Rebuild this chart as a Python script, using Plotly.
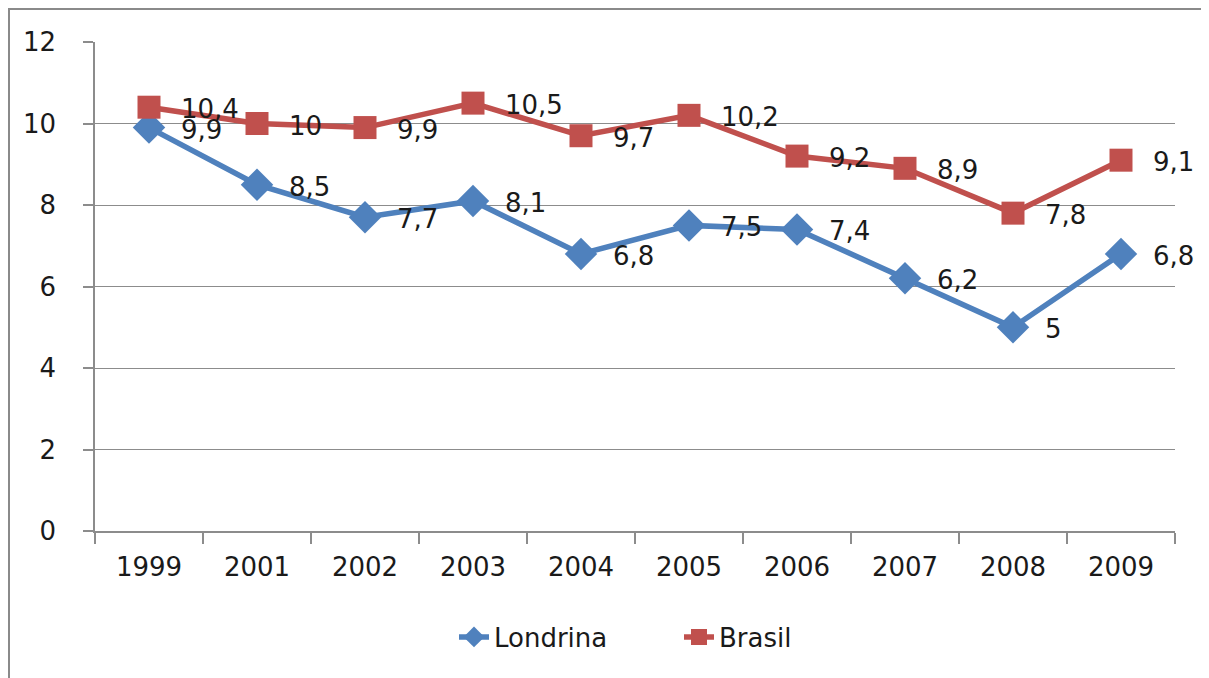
import plotly.graph_objects as go

years = ["1999", "2001", "2002", "2003", "2004", "2005", "2006", "2007", "2008", "2009"]
londrina = [9.9, 8.5, 7.7, 8.1, 6.8, 7.5, 7.4, 6.2, 5.0, 6.8]
brasil = [10.4, 10.0, 9.9, 10.5, 9.7, 10.2, 9.2, 8.9, 7.8, 9.1]
y_ticks = [0, 2, 4, 6, 8, 10, 12]

BLUE = "#4F81BD"
RED = "#C0504D"
FONT = "DejaVu Sans"
FS = 26

def fmt(v):
    return ("%g" % v).replace(".", ",")

fig = go.Figure()
fig.add_trace(go.Scatter(
    x=years, y=londrina, name="Londrina", mode="lines+markers",
    line=dict(color=BLUE, width=5.5),
    marker=dict(symbol="diamond", size=25, color=BLUE),
))
fig.add_trace(go.Scatter(
    x=years, y=brasil, name="Brasil", mode="lines+markers",
    line=dict(color=RED, width=5.5),
    marker=dict(symbol="square", size=23, color=RED),
))

annotations = []
for series in (londrina, brasil):
    for i, v in enumerate(series):
        annotations.append(dict(
            x=i, y=v, xref="x", yref="y", text=fmt(v), showarrow=False,
            xanchor="left", yanchor="middle", xshift=30, yshift=-2,
            font=dict(family=FONT, size=FS, color="#1a1a1a"),
        ))

# page has an 8px body margin; figure origin sits at page (8, 8)
OFF = 8
W, H = 1209 - OFF, 678 - OFF
L = 95 - OFF
T = 42 - OFF
R = W - (1175 - OFF)
B = H - (531 - OFF)
pw, ph = W - L - R, H - T - B

def px_x(px):
    return (px - OFF - L) / pw

def px_y(py):
    return (H - B - (py - OFF)) / ph

shapes = [
    dict(type="line", xref="paper", yref="paper", x0=px_x(8.5), x1=px_x(8.5), y0=px_y(6), y1=px_y(680),
         line=dict(color="#8a8a8a", width=3)),
    dict(type="line", xref="paper", yref="paper", x0=px_x(7), x1=px_x(1207), y0=px_y(8.5), y1=px_y(8.5),
         line=dict(color="#8a8a8a", width=3)),
    dict(type="line", xref="paper", yref="paper", x0=px_x(1206), x1=px_x(1206), y0=px_y(8), y1=px_y(680),
         line=dict(color="#d0d0d0", width=1.5)),
]

fig.update_layout(
    width=W, height=H,
    margin=dict(l=L, r=R, t=T, b=B, pad=0),
    paper_bgcolor="white", plot_bgcolor="white",
    font=dict(family=FONT, size=FS, color="#1a1a1a"),
    showlegend=True,
    legend=dict(orientation="h", x=px_x(454), xanchor="left", y=px_y(637), yanchor="middle",
                font=dict(family=FONT, size=FS), bgcolor="rgba(0,0,0,0)",
                entrywidth=180, entrywidthmode="pixels"),
    annotations=annotations,
    shapes=shapes,
)
fig.update_xaxes(
    type="category", categoryorder="array", categoryarray=years,
    showline=True, linecolor="#8c8c8c", linewidth=1.5,
    ticks="outside", tickson="boundaries", ticklen=11, tickcolor="#8c8c8c", tickwidth=1.5,
    showgrid=False, tickfont=dict(family=FONT, size=FS, color="#1a1a1a"),
    ticklabelstandoff=12, range=[-0.5, 9.5],
)
fig.update_yaxes(
    range=[0, 12], tickvals=y_ticks, ticktext=[str(t) for t in y_ticks],
    showline=True, linecolor="#8c8c8c", linewidth=1.5,
    ticks="outside", ticklen=10, tickcolor="#8c8c8c", tickwidth=1.5,
    showgrid=True, gridcolor="#8c8c8c", gridwidth=1.2, zeroline=False,
    tickfont=dict(family=FONT, size=FS, color="#1a1a1a"), ticklabelstandoff=22,
)

fig.write_html("out.html")
